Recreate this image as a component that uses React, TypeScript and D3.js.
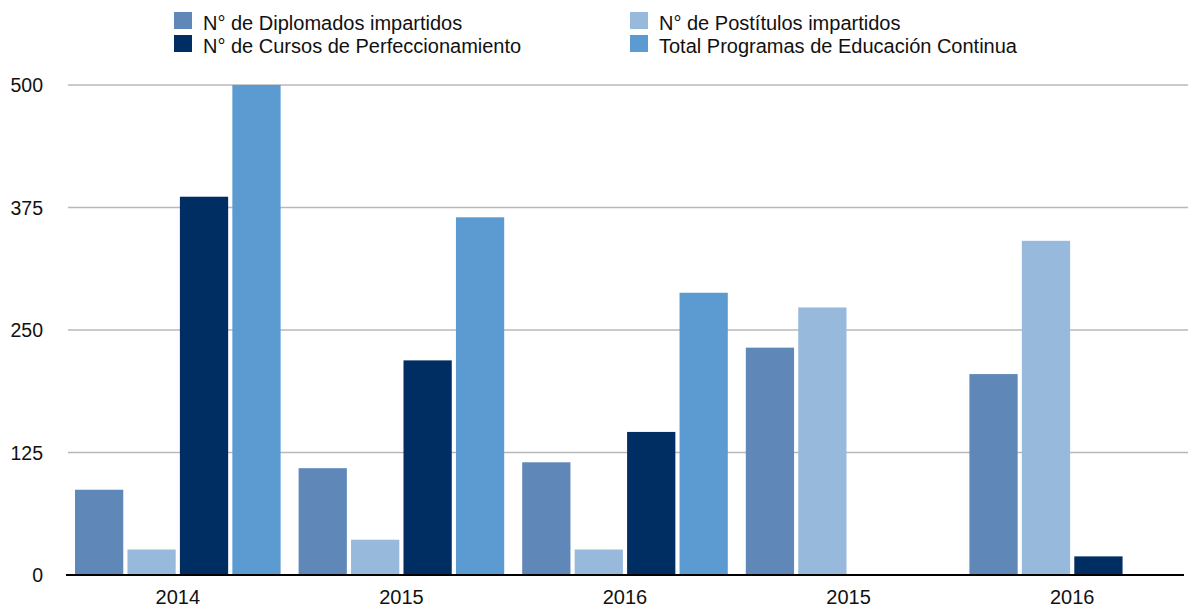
import React, { useEffect, useRef } from "react";
import * as d3 from "d3";

const categories = ["2014", "2015", "2016", "2015", "2016"];
const seriesNames = [
  "N° de Diplomados impartidos",
  "N° de Postítulos impartidos",
  "N° de Cursos de Perfeccionamiento",
  "Total Programas de Educación Continua",
];
const seriesColors = ["#5f87b8", "#97b9dc", "#002d62", "#5b9bd1"];

const diplomados = [87, 109, 115, 232, 205];
const postitulos = [26, 36, 26, 273, 341];
const cursos = [386, 219, 146, 0, 19];
const totales = [500, 365, 288, 0, 0];

const yTicks = [0, 125, 250, 375, 500];

const W = 1188;
const H = 607;
const margin = { top: 85, right: 4, bottom: 32, left: 66 };
const FONT = "'Liberation Sans', Arial, Helvetica, sans-serif";

export default function App() {
  const svgRef = useRef<SVGSVGElement>(null);

  useEffect(() => {
    const svg = d3.select(svgRef.current);
    svg.selectAll("*").remove();

    const width = W - margin.left - margin.right;
    const height = H - margin.top - margin.bottom;
    const series = [diplomados, postitulos, cursos, totales];

    const g = svg.append("g").attr("transform", `translate(${margin.left},${margin.top})`);

    const x0 = d3.scaleBand<number>().domain(d3.range(categories.length)).range([0, width]);
    const x1 = d3
      .scaleBand<number>()
      .domain(d3.range(series.length))
      .range([9, x0.bandwidth() - 9])
      .paddingInner(0.08);
    const y = d3.scaleLinear().domain([0, 500]).range([height, 0]);

    // grid lines
    g.selectAll(".grid")
      .data(yTicks.filter((t) => t > 0))
      .enter()
      .append("line")
      .attr("x1", 2)
      .attr("x2", width + margin.right)
      .attr("y1", (d) => y(d))
      .attr("y2", (d) => y(d))
      .attr("stroke", "#b8b8b8")
      .attr("stroke-width", 1.5);

    // y labels
    g.selectAll(".ylab")
      .data(yTicks)
      .enter()
      .append("text")
      .attr("x", -23)
      .attr("y", (d) => y(d) + 7)
      .attr("text-anchor", "end")
      .style("font-family", FONT)
      .style("font-size", "19.5px")
      .attr("fill", "#111")
      .text((d) => d);

    // bars
    categories.forEach((_, ci) => {
      series.forEach((vals, si) => {
        if (!vals[ci]) return;
        g.append("rect")
          .attr("x", x0(ci)! + x1(si)!)
          .attr("y", y(vals[ci]))
          .attr("width", x1.bandwidth())
          .attr("height", height - y(vals[ci]))
          .attr("fill", seriesColors[si]);
      });
    });

    // baseline
    g.append("line")
      .attr("x1", 0)
      .attr("x2", width)
      .attr("y1", height)
      .attr("y2", height)
      .attr("stroke", "#000")
      .attr("stroke-width", 2);

    // x labels
    g.selectAll(".xlab")
      .data(categories)
      .enter()
      .append("text")
      .attr("x", (_, i) => x0(i)! + x0.bandwidth() / 2)
      .attr("y", height + 29)
      .attr("text-anchor", "middle")
      .style("font-family", FONT)
      .style("font-size", "20px")
      .attr("fill", "#111")
      .text((d) => d);

    // legend
    const legendPos = [
      [174, 12],
      [630, 12],
      [174, 35],
      [630, 35],
    ];
    seriesNames.forEach((name, i) => {
      const [lx, ly] = legendPos[i];
      svg.append("rect")
        .attr("x", lx)
        .attr("y", ly)
        .attr("width", 18)
        .attr("height", 17)
        .attr("fill", seriesColors[i]);
      svg.append("text")
        .attr("x", lx + 29)
        .attr("y", ly + 17.5)
        .style("font-family", FONT)
        .style("font-size", "20px")
        .attr("fill", "#111")
        .text(name);
    });
  }, []);

  return (
    <svg
      ref={svgRef}
      width={W}
      height={H}
      style={{ position: "absolute", left: 0, top: 0, background: "#fff" }}
    />
  );
}
